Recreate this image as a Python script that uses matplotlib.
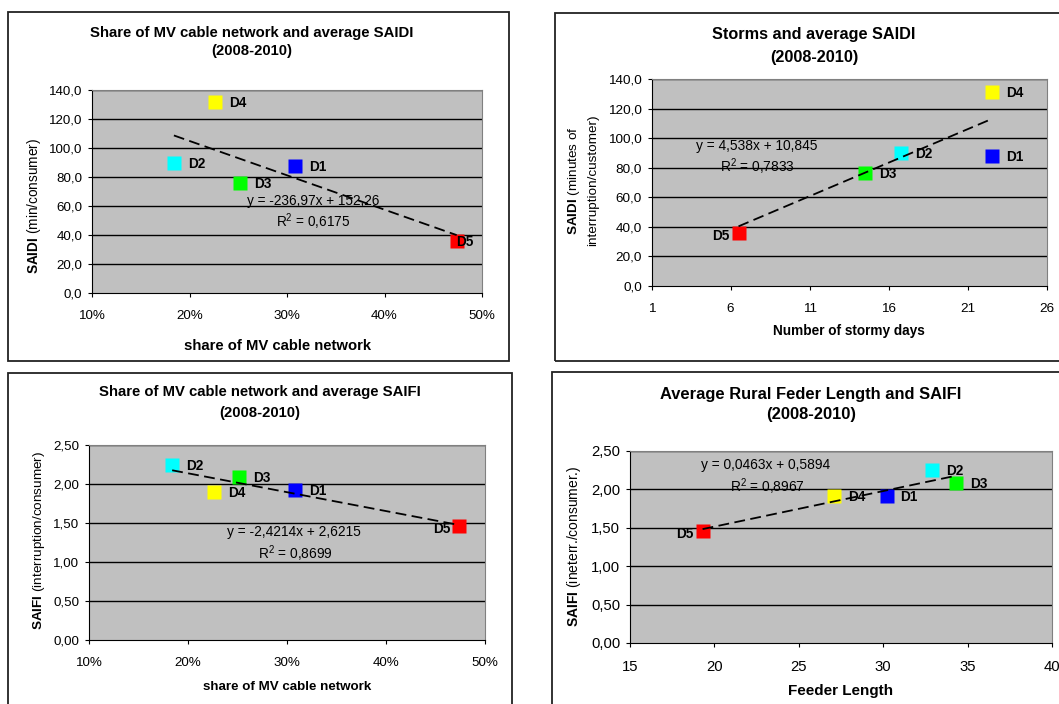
import numpy as np
import matplotlib
matplotlib.use('Agg')
import matplotlib.pyplot as plt
from matplotlib.patches import Rectangle
from matplotlib.ticker import FuncFormatter

plt.rcParams['font.family'] = ['Liberation Sans', 'DejaVu Sans']
plt.rcParams['mathtext.fontset'] = 'custom'
plt.rcParams['mathtext.rm'] = 'Liberation Sans'
plt.rcParams['mathtext.it'] = 'Liberation Sans:italic'
plt.rcParams['mathtext.bf'] = 'Liberation Sans:bold'

# data
names = ['D1', 'D2', 'D3', 'D4', 'D5']
colors = ['#0000FF', '#00FFFF', '#00FF00', '#FFFF00', '#FF0000']

cable_share = [0.308, 0.184, 0.252, 0.226, 0.474]
saidi = [87.8, 89.7, 76.2, 131.4, 36.1]
storm_days = [22.5, 16.8, 14.5, 22.5, 6.5]
saifi = [1.92, 2.25, 2.09, 1.90, 1.46]
saifi_b = [1.91, 2.25, 2.08, 1.91, 1.46]
feeder_len = [30.2, 32.9, 34.3, 27.1, 19.3]

# trendline coefficients as printed on the charts
fit1 = (-236.97, 152.26)
fit2 = (4.538, 10.845)
fit3 = (-2.4214, 2.6215)
fit4 = (0.0463, 0.5894)

W, H = 1059, 704
fig = plt.figure(figsize=(W / 100, H / 100), dpi=100)


def fx(x):
    return x / W


def fy(y):
    return 1 - y / H


def box(l, t, r, b):
    fig.patches.append(Rectangle((fx(l), fy(b)), (r - l) / W, (b - t) / H,
                                 transform=fig.transFigure, fill=False,
                                 ec='#222222', lw=1.3))


def txt(x, y, s, size, bold=False, rot=0):
    fig.text(fx(x), fy(y), s, fontsize=size, ha='center', va='center',
             fontweight='bold' if bold else 'normal', rotation=rot)


def panel(l, t, r, b, xs, ys, fit, xlim, ylim, xticks, yticks, xfmt, yfmt,
          tsize, d5_left):
    ax = fig.add_axes([l / W, 1 - b / H, (r - l) / W, (b - t) / H])
    ax.set_facecolor('#C0C0C0')
    ax.set_xlim(*xlim)
    ax.set_ylim(*ylim)
    ax.set_xticks(xticks)
    ax.set_yticks(yticks)
    ax.xaxis.set_major_formatter(FuncFormatter(xfmt))
    ax.yaxis.set_major_formatter(FuncFormatter(yfmt))
    for y in yticks[1:]:
        ax.axhline(y, color='black', lw=1.0, zorder=1)
    for s in ['top', 'right']:
        ax.spines[s].set_color('#808080')
    for s in ['left', 'bottom']:
        ax.spines[s].set_color('black')
    ax.tick_params(direction='out', length=3, width=0.8, labelsize=tsize,
                   colors='black')
    ax.tick_params(axis='x', pad=9)
    ax.tick_params(axis='y', pad=4)
    for n, c, x, y in zip(names, colors, xs, ys):
        ax.plot(x, y, 's', color=c, ms=9.5, mec='none', zorder=3)
        if n == 'D5':
            if d5_left:
                ax.annotate(n, (x, y), xytext=(-9, -3), textcoords='offset pixels',
                            ha='right', va='center', fontsize=9.8,
                            fontweight='bold', zorder=3)
            else:
                ax.annotate(n, (x, y), xytext=(-1, -1), textcoords='offset pixels',
                            ha='left', va='center', fontsize=9.8,
                            fontweight='bold', zorder=3)
        else:
            ax.annotate(n, (x, y), xytext=(14, -1), textcoords='offset pixels',
                        ha='left', va='center', fontsize=9.8,
                        fontweight='bold', zorder=3)
    tx = np.array([min(xs), max(xs)])
    ax.plot(tx, fit[0] * tx + fit[1], color='black', lw=1.3,
            ls=(0, (6, 3)), zorder=4)
    return ax


pct = lambda v, p: '{:.0f}%'.format(v * 100)
one = lambda v, p: '{:.1f}'.format(v).replace('.', ',')
two = lambda v, p: '{:.2f}'.format(v).replace('.', ',')
intf = lambda v, p: '{:.0f}'.format(v)

# chart frames
box(8, 12, 509, 361)
box(555, 13, 1075, 361)
box(8, 373, 512, 720)
box(552, 372, 1075, 720)

# top left
panel(92, 90, 482, 293, cable_share, saidi, fit1, (0.1, 0.5), (0, 140),
      [0.1, 0.2, 0.3, 0.4, 0.5], list(range(0, 141, 20)), pct, one, 9.6, False)
txt(252, 33, 'Share of MV cable network and average SAIDI', 10.7, True)
txt(252, 51, '(2008-2010)', 10.7, True)
txt(278, 345.5, 'share of MV cable network', 10.7, True)
txt(34, 206, r'$\mathbf{SAIDI}$ (min/consumer)', 9.8, rot=90)
txt(313, 200.5, 'y = -236,97x + 152,26', 9.8)
txt(313, 221.4, r'R$^{2}$ = 0,6175', 9.8)

# top right
panel(651.5, 79, 1047, 286, storm_days, saidi, fit2, (1, 26), (0, 140),
      [1, 6, 11, 16, 21, 26], list(range(0, 141, 20)), intf, one, 9.7, True)
txt(814, 35, 'Storms and average SAIDI', 11.7, True)
txt(814, 57.5, '(2008-2010)', 11.7, True)
txt(849, 331, 'Number of stormy days', 9.8, True)
txt(574, 180.5, r'$\mathbf{SAIDI}$ (minutes of', 9.7, rot=90)
txt(593, 180.5, 'interruption/customer)', 9.7, rot=90)
txt(757, 146, 'y = 4,538x + 10,845', 9.9)
txt(757, 166.7, r'R$^{2}$ = 0,7833', 9.9)

# bottom left
panel(89, 445, 485, 640, cable_share, saifi, fit3, (0.1, 0.5), (0, 2.5),
      [0.1, 0.2, 0.3, 0.4, 0.5], [0, 0.5, 1.0, 1.5, 2.0, 2.5], pct, two, 9.6, True)
txt(260, 392.3, 'Share of MV cable network and average SAIFI', 10.7, True)
txt(260, 413.2, '(2008-2010)', 10.7, True)
txt(287, 687, 'share of MV cable network', 9.6, True)
txt(39, 540, r'$\mathbf{SAIFI}$ (interruption/consumer)', 9.7, rot=90)
txt(294, 532, 'y = -2,4214x + 2,6215', 9.9)
txt(295, 553.5, r'R$^{2}$ = 0,8699', 9.9)

# bottom right
panel(630, 451, 1052, 643, feeder_len, saifi_b, fit4, (15, 40), (0, 2.5),
      [15, 20, 25, 30, 35, 40], [0, 0.5, 1.0, 1.5, 2.0, 2.5], intf, two, 10.7, True)
txt(811, 394, 'Average Rural Feder Length and SAIFI', 11.9, True)
txt(811, 415, '(2008-2010)', 11.9, True)
txt(841, 691, 'Feeder Length', 11, True)
txt(574, 546.5, r'$\mathbf{SAIFI}$ (ineterr./consumer.)', 10, rot=90)
txt(766, 465, 'y = 0,0463x + 0,5894', 9.9)
txt(767, 486.6, r'R$^{2}$ = 0,8967', 9.9)

fig.savefig('out.png', dpi=100)
